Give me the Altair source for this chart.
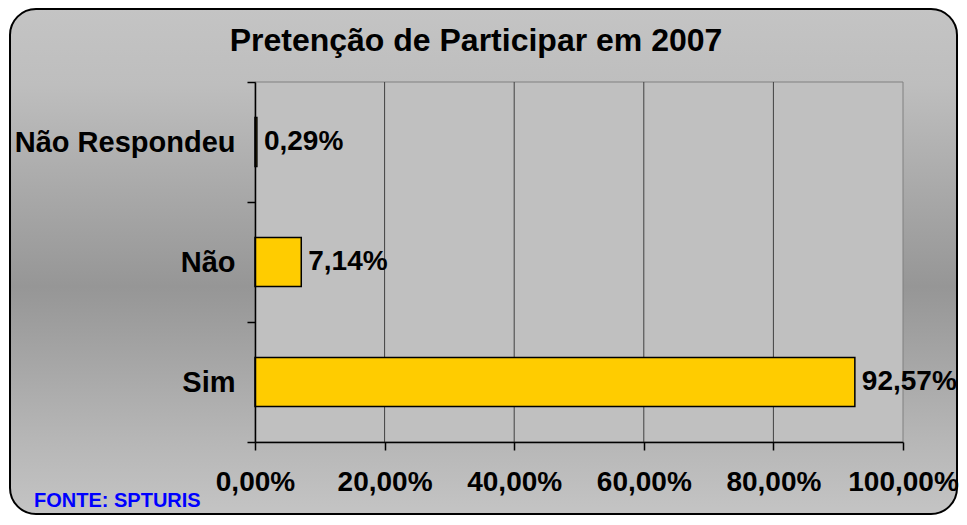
import altair as alt
import pandas as pd

# ---- data ----
categories = ["Não Respondeu", "Não", "Sim"]
values = [0.29, 7.14, 92.57]
tick_values = [0, 20, 40, 60, 80, 100]
grid_values = [20, 40, 60, 80]
title_text = ["Pretenção de Participar em 2007"]
source_text = ["FONTE: SPTURIS"]

W, H = 648, 360
FONT = "Liberation Sans"

df = pd.DataFrame({"cat": categories, "v": values})
grid_df = pd.DataFrame({"v": grid_values})

pct_expr = "replace(format(datum.value, '.2f'), '.', ',') + '%'"

xscale = alt.Scale(domain=[0, 100], nice=False, zero=True)
yscale = alt.Scale(domain=categories, paddingInner=0, paddingOuter=0)

x_axis = alt.Axis(values=tick_values, labelExpr=pct_expr, title=None, grid=False,
                  domainColor="black", domainWidth=1.5, tickColor="black", tickWidth=1.5,
                  tickSize=8, labelFont=FONT, labelFontSize=28, labelFontWeight="bold",
                  labelColor="black", labelPadding=18, zindex=1, labelFlush=False,
                  labelOverlap=False)
y_axis = alt.Axis(title=None, grid=False, tickBand="extent", domainColor="black",
                  domainWidth=1.5, tickColor="black", tickWidth=1.5, tickSize=8,
                  labelFont=FONT, labelFontSize=29, labelFontWeight="bold",
                  labelColor="black", labelPadding=12, labelLimit=400, zindex=1)

gradient = alt.LinearGradient(
    gradient="linear",
    stops=[
        alt.GradientStop(color="#C4C4C4", offset=0),
        alt.GradientStop(color="#BEBEBE", offset=0.15),
        alt.GradientStop(color="#969696", offset=0.55),
        alt.GradientStop(color="#B6B6B6", offset=0.85),
        alt.GradientStop(color="#C4C4C4", offset=1),
    ],
    x1=0, x2=0, y1=0, y2=1,
)

frame = alt.Chart(pd.DataFrame({"k": [0]})).mark_rect(
    fill=gradient, stroke="black", strokeWidth=2, cornerRadius=26
).encode(x=alt.value(-245), x2=alt.value(W + 54), y=alt.value(-73), y2=alt.value(H + 72))

plot_bg = alt.Chart(pd.DataFrame({"k": [0]})).mark_rect(
    fill="#C0C0C0", stroke="#808080", strokeWidth=1
).encode(x=alt.value(0), x2=alt.value(W), y=alt.value(0), y2=alt.value(H))

grid = alt.Chart(grid_df).mark_rule(color="#404040", strokeWidth=1).encode(
    x=alt.X("v:Q", scale=xscale, axis=x_axis), y=alt.value(0), y2=alt.value(H)
)

bars = alt.Chart(df).mark_bar(fill="#FFCC00", stroke="black", strokeWidth=1.5, size=49).encode(
    x=alt.X("v:Q", scale=xscale, axis=x_axis),
    y=alt.Y("cat:N", scale=yscale, axis=y_axis, sort=categories),
)

labels = alt.Chart(df).mark_text(
    align="left", baseline="middle", dx=7, font=FONT, fontSize=28, fontWeight="bold", color="black"
).encode(
    x=alt.X("v:Q", scale=xscale, axis=x_axis),
    y=alt.Y("cat:N", scale=yscale, axis=y_axis, sort=categories),
    text="lab:N",
).transform_calculate(lab="replace(format(datum.v, '.2f'), '.', ',') + '%'")

title = alt.Chart(pd.DataFrame({"t": title_text})).mark_text(
    align="center", baseline="alphabetic", font=FONT, fontSize=32, fontWeight="bold", color="black"
).encode(x=alt.value(221), y=alt.value(-31), text="t:N")

source = alt.Chart(pd.DataFrame({"t": source_text})).mark_text(
    align="left", baseline="alphabetic", font=FONT, fontSize=20, fontWeight="bold", color="#0000FF"
).encode(x=alt.value(-221), y=alt.value(425), text="t:N")

chart = alt.layer(frame, plot_bg, grid, bars, labels, title, source).properties(
    width=W, height=H,
    padding={"left": 247, "top": 74, "right": 56, "bottom": 75},
    autosize=alt.AutoSizeParams(type="none"),
    background="white",
).configure_view(stroke=None)

chart.save("out.html", embed_options={"renderer": "svg", "actions": False})
